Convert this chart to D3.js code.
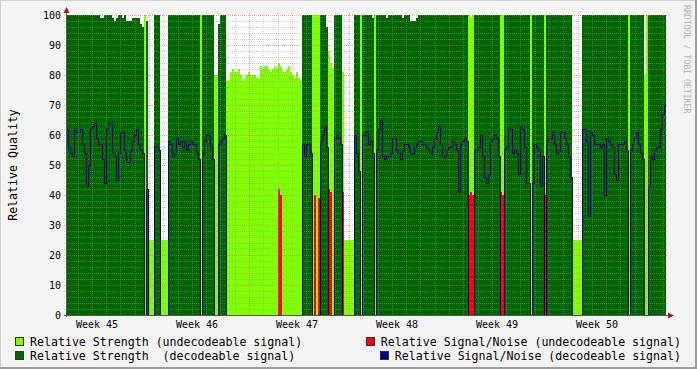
<!DOCTYPE html>
<html>
<head>
<meta charset="utf-8">
<script src="https://cdn.jsdelivr.net/npm/d3@7"></script>
<style>
  body { margin: 0; background: #f3f3f3; }
  svg { display: block; }
  text { font-family: "DejaVu Sans Mono", monospace; }
</style>
</head>
<body>
<div id="chart"></div>
<script>
// 300 samples of 3.36 h each, 42 days starting Tue 4 Nov 2008 04:34 UTC
const startTime = Date.UTC(2008, 10, 4, 4, 34);
const spanDays = 42;

// D = decodeable, U = undecodeable (one char per sample)
const status = [
    "DDDDD DDDDD DDDDD DDDDD DDDDD",
    "DDDDD DDDDD DDDDU DUUUD DDUUU",
    "UDDDD DDDDD DDDDD DDUDD DDDDU",
    "UDDDD UUUUU UUUUU UUUUU UUUUU",
    "UUUUU UUUUU UUUUU UUUDD DDDUU",
    "UUDDD DUUUD DDDUU UUUUD DDUDD",
    "DDDDU DDDDD DDDDD DDDDD DDDDD",
    "DDDDD DDDDD DDDDD DDDDD DDDDD",
    "DUUUD DDDDD DDDDD DDUUD DDDDD",
    "DDDDD DDUDD DDDDU DDDDD DDDDD",
    "DDDUU UUUDD DDDDD DDDDD DDDDD",
    "DDDDD DUDDD DDDDU UDDDD DDDDD"
].join("").replace(/ /g, "");

// relative strength (%)
const strength = [
    100,100,100,100,100,100,100,100,100,100,100,100,100,100,100,100,100,99,99,100,100,100,100,99,98,
    99,100,100,99,100,98,98,98,99,99,99,99,97,96,100,98,25,25,25,100,100,100,25,25,25,
    25,100,100,100,100,100,100,100,100,100,100,100,100,100,100,100,100,100,100,100,100,100,100,100,80,
    80,97,100,100,100,78,78,81,82,81,81,82,80,78,79,80,81,80,80,80,79,79,83,82,83,
    83,82,81,82,83,82,84,83,81,81,82,83,81,80,79,81,79,78,100,100,100,100,100,100,100,
    100,100,100,100,100,96,88,84,82,100,100,100,100,81,25,25,25,25,25,100,100,100,100,100,100,
    100,100,100,99,100,100,100,100,100,100,99,100,100,100,100,100,100,100,99,100,100,100,98,98,98,
    99,100,100,100,100,100,100,100,100,100,100,100,100,100,100,100,100,100,100,100,100,100,100,100,100,
    100,100,99,100,100,100,100,100,100,100,100,100,100,100,100,100,100,100,100,100,100,100,100,100,100,
    100,100,100,100,100,100,100,100,100,100,100,100,100,100,100,100,100,100,100,100,100,100,100,100,100,
    100,100,100,25,25,25,25,25,100,100,100,100,100,100,100,100,100,100,100,100,100,100,100,100,100,
    100,100,100,100,100,100,100,100,100,100,100,100,100,100,80,100,100,100,100,100,100,100,100,100,100
];

// relative signal/noise (%)
const snr = [
    62,56,54,53,62,61,61,62,57,54,43,50,62,63,64,59,57,57,52,44,62,64,64,54,53,
    45,54,61,61,55,51,51,55,58,60,62,57,55,54,0,42,0,0,0,56,56,55,0,0,0,
    0,58,57,53,54,59,57,58,56,58,55,57,58,57,57,54,52,0,54,58,60,60,56,52,0,
    0,57,58,59,60,0,0,0,0,0,0,0,0,0,0,0,0,0,0,0,0,0,0,0,0,
    0,0,0,0,0,0,42,40,0,0,0,0,0,0,0,0,0,0,57,53,57,57,54,0,40,
    0,39,58,60,63,56,42,41,0,59,60,59,57,41,0,0,0,0,0,60,54,48,0,60,60,
    61,57,58,54,0,55,62,65,53,52,53,53,54,59,59,55,54,52,55,57,57,56,54,54,56,
    57,58,58,57,57,56,55,54,56,59,61,63,57,53,53,55,56,56,58,57,55,41,57,58,59,
    58,40,41,40,55,55,56,60,53,46,44,47,58,59,60,59,53,41,40,55,56,62,62,54,55,
    54,47,63,62,56,44,44,0,44,57,56,55,43,53,40,58,59,59,61,57,54,55,61,61,59,
    57,53,46,0,0,0,0,0,62,62,58,33,61,60,57,57,57,56,57,40,59,58,57,56,47,
    45,57,57,57,58,55,0,55,57,59,61,57,54,52,0,0,43,53,52,55,56,56,62,67,70
];

const yTicks = [0, 10, 20, 30, 40, 50, 60, 70, 80, 90, 100];
const legendLabels = [
    "Relative Strength (undecodeable signal)",
    "Relative Signal/Noise (undecodeable signal)",
    "Relative Strength  (decodeable signal)",
    "Relative Signal/Noise (decodeable signal)"
];

const lightGreen = "#80ff00";
const darkGreen = "#006600";
const red = "#ff0000";
const blue = "#000090";

let w = 697;
let h = 369;
let padL = 66, padR = 666, padT = 15, padB = 315;

let svg = d3.select("#chart").append("svg")
    .attr("width", w)
    .attr("height", h);

svg.append("rect").attr("width", w).attr("height", h).attr("fill", "#f3f3f3");
// frame shading
svg.append("path").attr("d", "M0,0.5H" + w + "M0.5,0V" + h)
    .attr("stroke", "#d0d0d0").attr("fill", "none");
svg.append("path").attr("d", "M0," + (h - 1) + "H" + w + "M" + (w - 1) + ",0V" + h)
    .attr("stroke", "#9c9c9c").attr("stroke-width", 2).attr("fill", "none");

let endTime = startTime + spanDays * 864e5;
let x = d3.scaleUtc().domain([new Date(startTime), new Date(endTime)]).range([padL, padR]);
let y = d3.scaleLinear().domain([0, 100]).range([padB, padT]);

let n = strength.length;
let stepMs = (endTime - startTime) / n;
let samples = d3.range(n).map(function (i) {
    return {
        t0: new Date(startTime + i * stepMs),
        t1: new Date(startTime + (i + 1) * stepMs),
        s: strength[i],
        q: snr[i],
        dec: status[i] === "D"
    };
});

// canvas
svg.append("rect")
    .attr("x", padL).attr("y", padT)
    .attr("width", padR - padL).attr("height", padB - padT)
    .attr("fill", "white");

let plot = svg.append("g").attr("shape-rendering", "crispEdges");

plot.selectAll(".strength").data(samples).enter()
    .append("rect")
    .attr("class", "strength")
    .attr("x", d => x(d.t0))
    .attr("width", d => x(d.t1) - x(d.t0))
    .attr("y", d => y(d.s))
    .attr("height", d => y(0) - y(d.s))
    .attr("fill", d => d.dec ? darkGreen : lightGreen);

plot.selectAll(".snrU").data(samples.filter(d => !d.dec && d.q > 0)).enter()
    .append("rect")
    .attr("class", "snrU")
    .attr("x", d => x(d.t0))
    .attr("width", d => x(d.t1) - x(d.t0))
    .attr("y", d => y(d.q))
    .attr("height", d => y(0) - y(d.q))
    .attr("fill", red);

// grid
let grid = svg.append("g").attr("fill", "none").attr("stroke-dasharray", "1,1");
let minorY = d3.range(2, 100, 2).filter(v => v % 10 !== 0);
let minorColor = "rgba(150,150,150,0.45)";
let majorColor = "rgba(225,90,90,0.5)";
grid.selectAll(".hmin").data(minorY).enter().append("line")
    .attr("x1", padL - 2).attr("x2", padR + 2)
    .attr("y1", d => y(d) + 0.5).attr("y2", d => y(d) + 0.5)
    .attr("stroke", minorColor);
let days = d3.utcDay.range(new Date(startTime), new Date(endTime)).filter(d => d.getUTCDay() !== 1);
grid.selectAll(".vmin").data(days).enter().append("line")
    .attr("x1", d => Math.round(x(d)) + 0.5).attr("x2", d => Math.round(x(d)) + 0.5)
    .attr("y1", padT - 2).attr("y2", padB + 2)
    .attr("stroke", minorColor);
grid.selectAll(".hmaj").data(yTicks.filter(v => v > 0)).enter().append("line")
    .attr("x1", padL - 2).attr("x2", padR + 2)
    .attr("y1", d => y(d) + 0.5).attr("y2", d => y(d) + 0.5)
    .attr("stroke", majorColor);
let mondays = d3.utcMonday.range(new Date(startTime), new Date(endTime));
grid.selectAll(".vmaj").data(mondays).enter().append("line")
    .attr("x1", d => Math.round(x(d)) + 0.5).attr("x2", d => Math.round(x(d)) + 0.5)
    .attr("y1", padT - 2).attr("y2", padB + 2)
    .attr("stroke", majorColor);

// decodeable S/N line
let linePts = samples.map(d => [x(d.t0) + 0.5, y(d.dec ? d.q : 0) + 0.5]);
linePts.push([x(new Date(endTime)), linePts[linePts.length - 1][1]]);
svg.append("path")
    .attr("d", d3.line().curve(d3.curveStepAfter)(linePts))
    .attr("fill", "none")
    .attr("stroke", blue)
    .attr("stroke-width", 1.2)
    .attr("shape-rendering", "crispEdges");

// axes
svg.append("line")
    .attr("x1", padL - 2).attr("x2", padR + 3)
    .attr("y1", padB + 0.5).attr("y2", padB + 0.5)
    .attr("stroke", "#555");
svg.append("line")
    .attr("x1", padL + 0.5).attr("x2", padL + 0.5)
    .attr("y1", padB + 2).attr("y2", padT - 3)
    .attr("stroke", "#555");
svg.append("path")
    .attr("d", "M" + (padR + 2) + "," + (padB - 2.5) + "L" + (padR + 8) + "," + (padB + 0.5) + "L" + (padR + 2) + "," + (padB + 3.5) + "Z")
    .attr("fill", "#992222");
svg.append("path")
    .attr("d", "M" + (padL - 2.5) + "," + (padT - 2) + "L" + (padL + 0.5) + "," + (padT - 8) + "L" + (padL + 3.5) + "," + (padT - 2) + "Z")
    .attr("fill", "#992222");

// y tick labels
svg.selectAll(".ylab").data(yTicks).enter().append("text")
    .attr("x", padL - 5)
    .attr("y", d => y(d) + 3.5)
    .attr("text-anchor", "end")
    .attr("font-size", 10)
    .text(d => d);

// week labels, centred on the week
let weekFmt = d3.utcFormat("%V");
let labelWeeks = d3.utcMonday.range(new Date(startTime - 7 * 864e5), new Date(endTime))
    .filter(d => x(new Date(+d + 3.5 * 864e5)) < padR);
svg.selectAll(".xlab").data(labelWeeks).enter().append("text")
    .attr("x", d => x(new Date(+d + 3.5 * 864e5)) - 2)
    .attr("y", 328)
    .attr("text-anchor", "middle")
    .attr("font-size", 10)
    .text(d => "Week " + (+weekFmt(d)));

// y title
svg.append("text")
    .attr("transform", "translate(17," + ((padT + padB) / 2) + ") rotate(-90)")
    .attr("text-anchor", "middle")
    .attr("font-size", 11.6)
    .text("Relative Quality");

// watermark
svg.append("text")
    .attr("transform", "translate(684,5) rotate(90)")
    .attr("font-size", 8.2)
    .attr("fill", "#b4b4b4")
    .text("RRDTOOL / TOBI OETIKER");

// legend
let legendColors = [lightGreen, red, darkGreen, blue];
let legendRows = [346, 346, 360, 360];
legendLabels.forEach(function (label, i) {
    let t = svg.append("text")
        .attr("y", legendRows[i])
        .attr("font-size", 11.6)
        .style("white-space", "pre")
        .text(label);
    let tx;
    if (i % 2 === 0) {
        tx = 30;
    } else {
        tx = 681 - t.node().getComputedTextLength();
    }
    t.attr("x", tx);
    svg.append("rect")
        .attr("x", tx - 14.5).attr("y", legendRows[i] - 8.5)
        .attr("width", 8).attr("height", 8)
        .attr("fill", legendColors[i])
        .attr("stroke", "#333")
        .attr("shape-rendering", "crispEdges");
});
</script>
</body>
</html>
